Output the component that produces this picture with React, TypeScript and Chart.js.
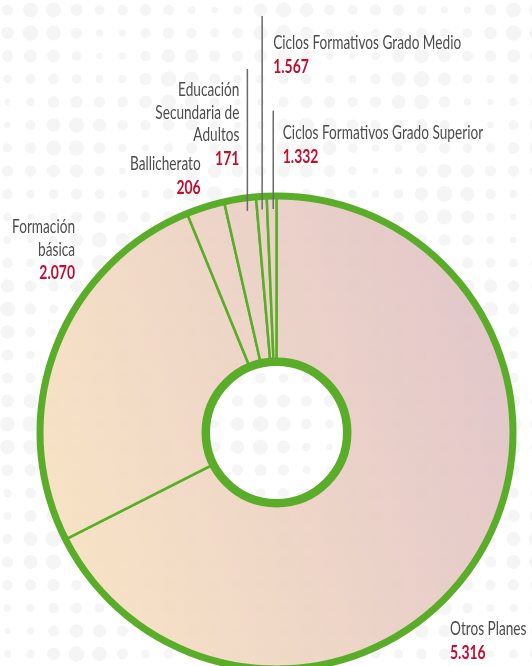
import React, { useEffect, useRef } from 'react';
import { Chart, registerables } from 'chart.js';

Chart.register(...registerables);

// ---------- data ----------
const categories = [
  'Otros Planes',
  'Formación básica',
  'Ballicherato',
  'Educación Secundaria de Adultos',
  'Ciclos Formativos Grado Medio',
  'Ciclos Formativos Grado Superior',
];
// values printed on the labels
const valueLabels = ['5.316', '2.070', '206', '171', '1.567', '1.332'];
// slice sizes as drawn in the picture
const sliceValues = [5316, 2070, 206, 171, 57, 52];
// label text broken into lines
const labelLines = [
  ['Otros Planes'],
  ['Formación', 'básica'],
  ['Ballicherato'],
  ['Educación', 'Secundaria de', 'Adultos'],
  ['Ciclos Formativos Grado Medio'],
  ['Ciclos Formativos Grado Superior'],
];

// ---------- styles / layout ----------
const GREEN = '#5aad28';
const TEXT_GREY = '#4d4d4d';
const VALUE_RED = '#c20f2f';
const LABEL_FONT = '400 20px Lato';
const VALUE_FONT = 'bold 19.5px Lato';
const LINE_H = 22.6;
const VALUE_GAP = 23.5;

type Layout = {
  align: 'left' | 'right';
  dx?: number;
  dy: number;
  leader?: { frac: number; top: number; gap: number };
};
// offsets relative to the doughnut centre
const labelLayout: Layout[] = [
  { align: 'left', dx: 173.5, dy: 202.5 },
  { align: 'right', dx: -201.5, dy: -199.2 },
  { align: 'right', dx: -75.8, dy: -262.5 },
  { align: 'right', dy: -336.5, leader: { frac: 0.68, top: -363.5, gap: -8 } },
  { align: 'left', dy: -383.2, leader: { frac: 0.5, top: -416.5, gap: 11 } },
  { align: 'left', dy: -293.2, leader: { frac: 0.65, top: -321.8, gap: 9.5 } },
];

const backgroundPlugin = {
  id: 'dotsBackground',
  beforeDraw(chart: any) {
    const { ctx, width, height } = chart;
    ctx.save();
    ctx.fillStyle = '#ffffff';
    ctx.fillRect(0, 0, width, height);
    const step = 23;
    for (let j = 0; j * step < height; j++) {
      for (let i = 0; i * step < width + step; i++) {
        const x = 7.5 + i * step;
        const y = 10 + j * step;
        const r = 5.5 + 2.5 * Math.sin(i * 0.9 + j * 0.4) * Math.cos(j * 0.7 - i * 0.3);
        ctx.beginPath();
        ctx.arc(x, y, Math.max(r, 2.5), 0, Math.PI * 2);
        ctx.fillStyle = 'rgba(0,0,0,0.04)';
        ctx.fill();
      }
    }
    ctx.restore();
  },
};

function drawText(ctx: any, text: string, x: number, y: number, align: string, sx: number) {
  ctx.save();
  ctx.translate(x, y);
  ctx.scale(sx, 1);
  ctx.textAlign = align;
  ctx.textBaseline = 'alphabetic';
  ctx.fillText(text, 0, 0);
  ctx.restore();
}

const overlayPlugin = {
  id: 'ringsAndLabels',
  afterDatasetsDraw(chart: any) {
    const { ctx } = chart;
    const meta = chart.getDatasetMeta(0);
    const arcs = meta.data;
    if (!arcs.length) return;
    const { x: cx, y: cy, outerRadius, innerRadius } = arcs[0];
    ctx.save();
    // thick outer and inner rings
    ctx.strokeStyle = GREEN;
    ctx.lineWidth = 7;
    ctx.beginPath();
    ctx.arc(cx, cy, outerRadius, 0, Math.PI * 2);
    ctx.stroke();
    ctx.lineWidth = 8.5;
    ctx.beginPath();
    ctx.arc(cx, cy, innerRadius, 0, Math.PI * 2);
    ctx.stroke();

    // condense factors
    ctx.font = LABEL_FONT;
    const sxLabel = 188 / ctx.measureText('Ciclos Formativos Grado Medio').width;
    ctx.font = VALUE_FONT;
    const sxValue = 35.7 / ctx.measureText('2.070').width;

    arcs.forEach((arc: any, i: number) => {
      const lay = labelLayout[i];
      let tx: number;
      if (lay.leader) {
        const a = arc.startAngle + lay.leader.frac * (arc.endAngle - arc.startAngle);
        const R = outerRadius - 13;
        const lx = cx + R * Math.cos(a);
        const ly = cy + R * Math.sin(a);
        ctx.strokeStyle = '#6a6a6a';
        ctx.lineWidth = 1.5;
        ctx.beginPath();
        ctx.moveTo(lx, cy + lay.leader.top);
        ctx.lineTo(lx, ly);
        ctx.stroke();
        tx = lx + lay.leader.gap;
      } else {
        tx = cx + (lay.dx || 0);
      }
      const lines = labelLines[i];
      const by = cy + lay.dy;
      ctx.font = LABEL_FONT;
      ctx.fillStyle = TEXT_GREY;
      lines.forEach((t, k) => {
        drawText(ctx, t, tx, by + k * LINE_H, lay.align, sxLabel);
      });
      const vy = by + (lines.length - 1) * LINE_H + VALUE_GAP;
      ctx.font = VALUE_FONT;
      ctx.fillStyle = VALUE_RED;
      drawText(ctx, valueLabels[i], tx, vy, lay.align, sxValue);
    });
    ctx.restore();
  },
};

export default function App() {
  const ref = useRef<HTMLCanvasElement | null>(null);
  useEffect(() => {
    if (!ref.current) return;
    const chart = new Chart(ref.current, {
      type: 'doughnut',
      data: {
        labels: categories,
        datasets: [
          {
            data: sliceValues,
            backgroundColor: (c: any) => {
              const ch = c.chart;
              const area = ch.chartArea;
              if (!area) return '#efd6c4';
              const cx = (area.left + area.right) / 2;
              const cy = (area.top + area.bottom) / 2;
              const g = ch.ctx.createLinearGradient(cx - 240, cy + 80, cx + 240, cy - 80);
              g.addColorStop(0, 'rgba(248,225,192,0.92)');
              g.addColorStop(1, 'rgba(224,194,198,0.92)');
              return g;
            },
            borderColor: GREEN,
            borderWidth: 2.5,
            hoverBorderWidth: 2.5,
            hoverOffset: 0,
            borderAlign: 'center',
          } as any,
        ],
      },
      options: {
        responsive: false,
        animation: false,
        radius: 236.5,
        cutout: '29.9%',
        layout: { padding: { left: 21, right: 0, top: 0, bottom: 0 } },
        events: [],
        plugins: {
          legend: { display: false },
          tooltip: { enabled: false },
        },
      } as any,
      plugins: [backgroundPlugin, overlayPlugin],
    });
    return () => chart.destroy();
  }, []);

  return (
    <div
      style={{
        position: 'fixed',
        left: 0,
        top: 0,
        width: 532,
        height: 666,
        overflow: 'hidden',
        background: '#fff',
      }}
    >
      <canvas ref={ref} width={532} height={865} style={{ display: 'block' }} />
    </div>
  );
}
